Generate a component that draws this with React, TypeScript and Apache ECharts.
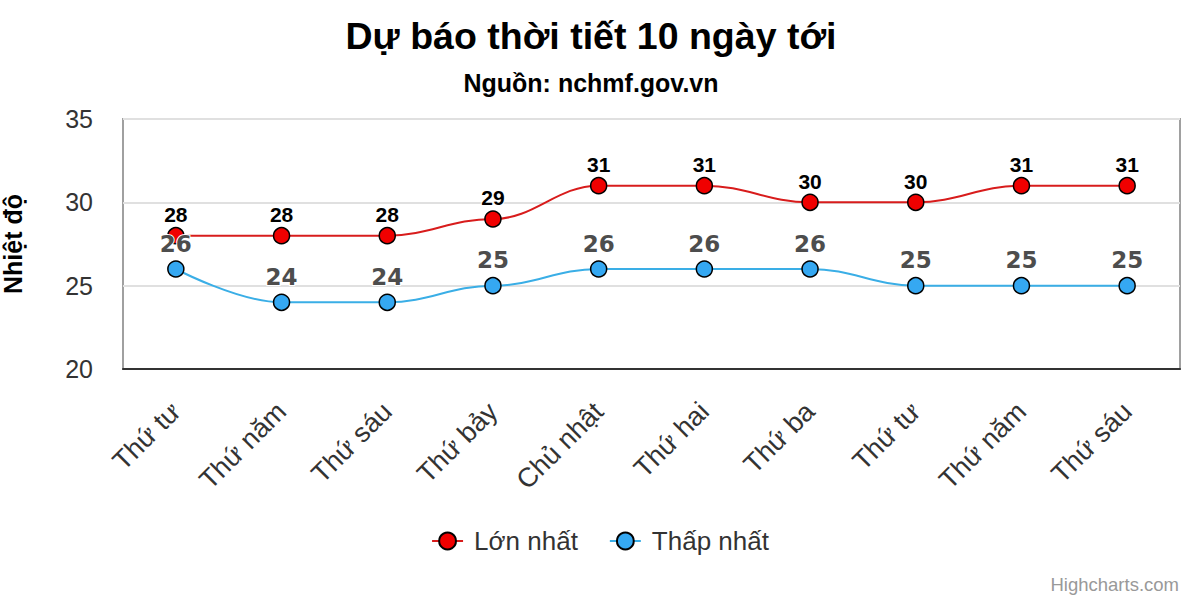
import React, { useEffect, useRef } from 'react';
import * as echarts from 'echarts';

const categories = ['Thứ tư', 'Thứ năm', 'Thứ sáu', 'Thứ bảy', 'Chủ nhật', 'Thứ hai', 'Thứ ba', 'Thứ tư', 'Thứ năm', 'Thứ sáu'];
const highTemps = [28, 28, 28, 29, 31, 31, 30, 30, 31, 31];
const lowTemps = [26, 24, 24, 25, 26, 26, 26, 25, 25, 25];
const yMin = 20;
const yMax = 35;
const yInterval = 5;
const titleText = 'Dự báo thời tiết 10 ngày tới';
const subtitleText = 'Nguồn: nchmf.gov.vn';
const yAxisTitle = 'Nhiệt độ';
const seriesNames = ['Lớn nhất', 'Thấp nhất'];
const creditText = 'Highcharts.com';

const FONT = '"Liberation Sans", Arial, Helvetica, sans-serif';

export default function App() {
  const ref = useRef<HTMLDivElement>(null);
  useEffect(() => {
    if (!ref.current) return;
    const chart = echarts.init(ref.current, undefined, { renderer: 'svg' });
    chart.setOption({
      animation: false,
      backgroundColor: '#ffffff',
      textStyle: { fontFamily: FONT },
      graphic: [
        {
          type: 'text',
          x: 591,
          y: 36,
          style: {
            text: titleText,
            font: `bold 37.5px ${FONT}`,
            fill: '#000',
            align: 'center',
            verticalAlign: 'middle',
          },
        },
        {
          type: 'text',
          x: 591,
          y: 83,
          style: {
            text: subtitleText,
            font: `bold 25px ${FONT}`,
            fill: '#000',
            align: 'center',
            verticalAlign: 'middle',
          },
        },
        {
          type: 'text',
          x: 13,
          y: 244,
          rotation: Math.PI / 2,
          style: {
            text: yAxisTitle,
            font: `bold 25px ${FONT}`,
            fill: '#000',
            align: 'center',
            verticalAlign: 'middle',
          },
        },
        {
          type: 'text',
          x: 1179,
          y: 584,
          style: {
            text: creditText,
            font: `18.5px ${FONT}`,
            fill: '#999',
            align: 'right',
            verticalAlign: 'middle',
          },
        },
      ],
      legend: {
        left: 'center',
        top: 523,
        itemWidth: 31,
        itemHeight: 21,
        itemGap: 31,
        textStyle: { fontSize: 26, color: '#333', fontFamily: FONT, padding: [0, 0, 0, 6] },
        data: seriesNames,
      },
      grid: {
        left: 123,
        right: 20,
        top: 119,
        bottom: 231,
        show: true,
        borderColor: '#a0a0a0',
        borderWidth: 2,
      },
      xAxis: {
        type: 'category',
        data: categories,
        boundaryGap: true,
        axisLine: { show: true, lineStyle: { color: '#333', width: 2 } },
        axisTick: { show: false },
        axisLabel: {
          rotate: 45,
          fontSize: 27,
          color: '#333',
          margin: 38,
          interval: 0,
          fontFamily: FONT,
        },
      },
      yAxis: {
        type: 'value',
        min: yMin,
        max: yMax,
        interval: yInterval,
        axisLine: { show: false },
        axisTick: { show: false },
        splitLine: { lineStyle: { color: '#e0e0e0', width: 2 } },
        axisLabel: { fontSize: 25, color: '#333', margin: 30, fontFamily: FONT },
      },
      series: [
        {
          name: seriesNames[0],
          type: 'line',
          data: highTemps,
          smooth: 0.4,
          smoothMonotone: 'x',
          symbol: 'circle',
          symbolSize: 16,
          lineStyle: { color: '#d81c1c', width: 2 },
          itemStyle: { color: '#f00000', borderColor: '#000', borderWidth: 1.5 },
          label: {
            show: true,
            position: 'top',
            distance: 2,
            fontSize: 21,
            fontWeight: 'bold',
            color: '#000',
            fontFamily: FONT,
            textBorderColor: '#fff',
            textBorderWidth: 2,
          },
          z: 2,
        },
        {
          name: seriesNames[1],
          type: 'line',
          data: lowTemps,
          smooth: 0.4,
          smoothMonotone: 'x',
          symbol: 'circle',
          symbolSize: 16,
          lineStyle: { color: '#3aaee6', width: 2 },
          itemStyle: { color: '#35a8f2', borderColor: '#000', borderWidth: 1.5 },
          label: {
            show: true,
            position: 'top',
            distance: 5,
            fontSize: 23,
            fontWeight: 'bold',
            color: '#4d4d4d',
            fontFamily: '"DejaVu Sans", Verdana, sans-serif',
            textBorderColor: '#fff',
            textBorderWidth: 2,
          },
          z: 3,
        },
      ],
    });
    return () => chart.dispose();
  }, []);
  return <div ref={ref} style={{ position: 'fixed', left: 0, top: 0, width: 1200, height: 600 }} />;
}
